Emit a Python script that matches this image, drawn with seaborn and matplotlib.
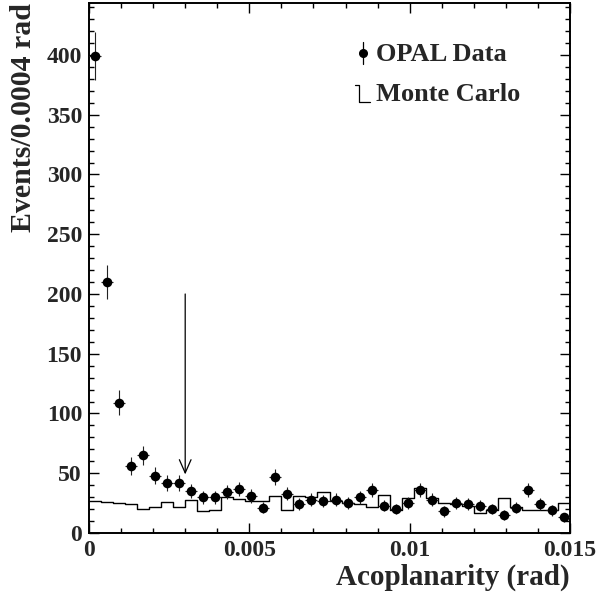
import numpy as np
import pandas as pd
import matplotlib
matplotlib.use("Agg")
import matplotlib.pyplot as plt
import seaborn as sns
from matplotlib.ticker import MultipleLocator, FixedLocator, FixedFormatter

# ---------------- data ----------------
x_range = (0.0, 0.015)
n_bins = 40
data_counts = [399, 210, 109, 56, 65, 48, 42, 42, 35, 30,
               30, 34, 37, 31, 21, 47, 33, 24, 28, 27,
               28, 25, 30, 36, 23, 20, 25, 36, 28, 18,
               25, 24, 23, 20, 15, 21, 36, 24, 19, 13]
mc_counts = [26.5, 26, 25, 24, 20, 21.5, 26, 22, 28, 18.5,
             19, 30, 28.5, 27, 26.5, 31, 19, 31, 30, 34,
             27, 25.5, 24, 21.5, 31.5, 19, 29.5, 37.5, 29.5, 25,
             24.5, 23, 16.5, 19, 29, 21.5, 19, 19, 19, 25]
cut_value = 0.003
arrow_top, arrow_tip = 200, 49
xtick_values = [0, 0.005, 0.01, 0.015]
xtick_labels = ["0", "0.005", "0.01", "0.015"]
ytick_values = [0, 50, 100, 150, 200, 250, 300, 350, 400]
ytick_labels = ["0", "50", "100", "150", "200", "250", "300", "350", "400"]
legend_labels = ["OPAL Data", "Monte Carlo"]

edges = np.linspace(x_range[0], x_range[1], n_bins + 1)
centers = 0.5 * (edges[:-1] + edges[1:])
half_w = 0.5 * (edges[1] - edges[0])
data_err = np.sqrt(np.array(data_counts, dtype=float))

df = pd.DataFrame({"x": centers, "mc": mc_counts, "data": data_counts,
                   "err": data_err})

# ---------------- style ----------------
sns.set_style("ticks")
plt.rcParams["font.family"] = ["Liberation Serif", "DejaVu Serif"]
plt.rcParams["font.weight"] = "bold"
plt.rcParams["axes.labelweight"] = "bold"

fig = plt.figure(figsize=(5.98, 5.97), dpi=100)
ax = fig.add_axes([89 / 598, 1 - 533 / 597, 481 / 598, 530 / 597])

# Monte Carlo histogram
sns.histplot(data=df, x="x", weights="mc", bins=list(edges), element="step",
             fill=False, color="black", linewidth=1.0, ax=ax)

# data points with error bars
ax.errorbar(df["x"], df["data"], yerr=df["err"], xerr=half_w, fmt="none",
            ecolor="#222222", elinewidth=0.8, capsize=0, zorder=3)
sns.scatterplot(data=df, x="x", y="data", color="black", s=48,
                edgecolor="black", linewidth=0, ax=ax, zorder=4)

# cut arrow
ax.annotate("", xy=(cut_value, arrow_tip), xytext=(cut_value, arrow_top),
            arrowprops=dict(arrowstyle="->,head_length=0.95,head_width=0.42",
                            color="black", lw=0.9, mutation_scale=10,
                            shrinkA=0, shrinkB=0))

# axes
ax.set_xlim(*x_range)
ax.set_ylim(0, 443.5)
ax.xaxis.set_major_locator(FixedLocator(xtick_values))
ax.xaxis.set_major_formatter(FixedFormatter(xtick_labels))
ax.yaxis.set_major_locator(FixedLocator(ytick_values))
ax.yaxis.set_major_formatter(FixedFormatter(ytick_labels))
ax.xaxis.set_minor_locator(MultipleLocator(0.001))
ax.yaxis.set_minor_locator(MultipleLocator(10))
ax.tick_params(which="both", direction="in", top=True, right=True,
               labeltop=False, labelright=False, width=1.0, color="black")
ax.tick_params(which="major", length=7.5, labelsize=17, pad=5)
ax.tick_params(which="minor", length=3.8)
for lab in ax.get_xticklabels() + ax.get_yticklabels():
    lab.set_fontweight("bold")
for sp in ax.spines.values():
    sp.set_visible(True)
    sp.set_linewidth(1.4)
    sp.set_color("black")

ax.set_xlabel("Acoplanarity (rad)", fontsize=21, fontweight="bold",
              loc="right", labelpad=2)
ax.set_ylabel("Events/0.0004 rad", fontsize=21.5, fontweight="bold",
              loc="top", labelpad=7)

# legend (drawn manually to mimic the ROOT style)
ax.plot([0.570, 0.570], [0.885, 0.927], transform=ax.transAxes,
        color="black", lw=0.9)
ax.plot([0.570], [0.906], transform=ax.transAxes, marker="o",
        color="black", markersize=5.5)
ax.text(0.597, 0.903, legend_labels[0], transform=ax.transAxes,
        fontsize=19, fontweight="bold", va="center", ha="left")
ax.plot([0.553, 0.561, 0.561, 0.584], [0.845, 0.845, 0.813, 0.813],
        transform=ax.transAxes, color="black", lw=0.9)
ax.text(0.597, 0.828, legend_labels[1], transform=ax.transAxes,
        fontsize=19, fontweight="bold", va="center", ha="left")

fig.savefig("out.png", dpi=100)
